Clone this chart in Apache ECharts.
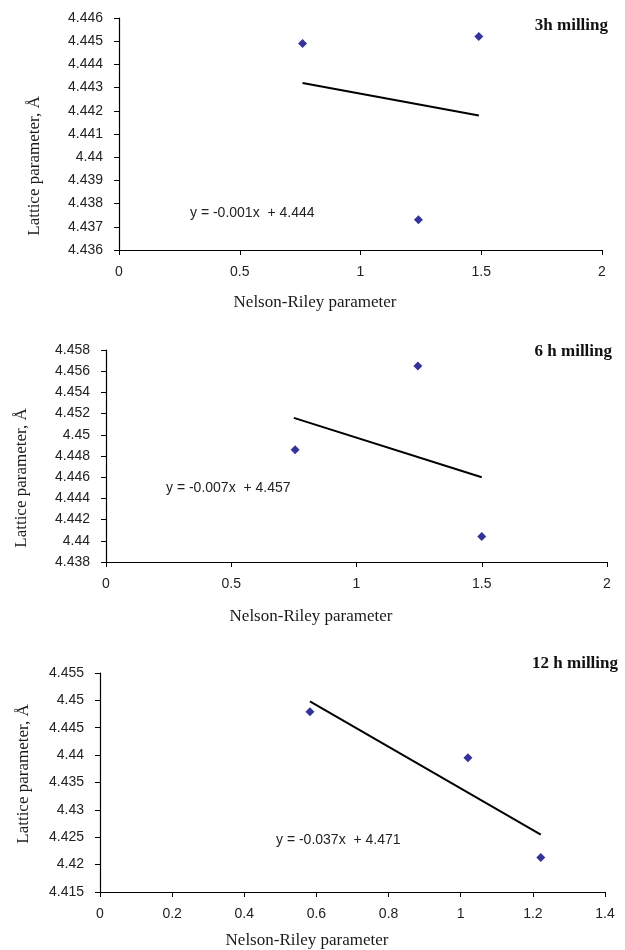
<!DOCTYPE html>
<html>
<head>
<meta charset="utf-8">
<script src="https://cdn.jsdelivr.net/npm/echarts@6/dist/echarts.min.js"></script>
<style>
html,body{margin:0;padding:0;background:#fff;}
#chart{width:625px;height:950px;}
</style>
</head>
<body>
<div id="chart"></div>
<script>
// ---- Data ----
var panelTitles = ['3h milling', '6 h milling', '12 h milling'];
var equations = ['y = -0.001x  + 4.444', 'y = -0.007x  + 4.457', 'y = -0.037x  + 4.471'];

var nr3h = [0.76, 1.24, 1.49];
var lat3h = [4.4449, 4.4373, 4.4452];
var trendX3h = [0.76, 1.49];
var trendY3h = [4.4432, 4.4418];

var nr6h = [0.755, 1.245, 1.5];
var lat6h = [4.4486, 4.4565, 4.4404];
var trendX6h = [0.75, 1.5];
var trendY6h = [4.4516, 4.4460];

var nr12h = [0.582, 1.02, 1.222];
var lat12h = [4.4479, 4.4395, 4.4213];
var trendX12h = [0.582, 1.222];
var trendY12h = [4.4498, 4.4255];

var yMin = [4.436, 4.438, 4.415];
var yMax = [4.446, 4.458, 4.455];
var yStep = [0.001, 0.002, 0.005];
var xMax = [2, 2, 1.4];
var xStep = [0.5, 0.5, 0.2];

var xName = 'Nelson-Riley parameter';
var yName = 'Lattice parameter, Å';

function pairs(xs, ys) { return xs.map(function (x, i) { return [x, ys[i]]; }); }

var pts = [pairs(nr3h, lat3h), pairs(nr6h, lat6h), pairs(nr12h, lat12h)];
var trends = [pairs(trendX3h, trendY3h), pairs(trendX6h, trendY6h), pairs(trendX12h, trendY12h)];

// ---- Layout ----
var grids = [
  {left: 119, top: 18, width: 483, height: 232},
  {left: 106, top: 350, width: 501, height: 212},
  {left: 100, top: 673, width: 505, height: 219}
];
var eqPos = [[190, 213], [166, 488], [276, 840]];
var titlePos = [[608, 26], [612, 352], [618, 664]];
var xNamePos = [[315, 303], [311, 617], [307, 941]];
var yNamePos = [[35, 166], [22, 478], [24, 774]];

var tickFont = {fontFamily: 'Liberation Sans, Arial, sans-serif', fontSize: 14, color: '#222'};
var serif = 'Liberation Serif, Times New Roman, serif';

var xAxes = [], yAxes = [], series = [], graphic = [];
for (var i = 0; i < 3; i++) {
  xAxes.push({
    type: 'value', gridIndex: i, min: 0, max: xMax[i], interval: xStep[i],
    axisLine: {show: true, onZero: false, lineStyle: {color: '#000', width: 1.2}},
    axisTick: {show: true, inside: false, length: 5, lineStyle: {color: '#000'}},
    splitLine: {show: false},
    axisLabel: Object.assign({margin: 15}, tickFont)
  });
  yAxes.push({
    type: 'value', gridIndex: i, min: yMin[i], max: yMax[i], interval: yStep[i],
    axisLine: {show: true, onZero: false, lineStyle: {color: '#000', width: 1.2}},
    axisTick: {show: true, inside: false, length: 5, lineStyle: {color: '#000'}},
    splitLine: {show: false},
    axisLabel: Object.assign({margin: 16, formatter: function (v) { return String(parseFloat(v.toFixed(4))); }}, tickFont)
  });
  series.push({
    type: 'line', xAxisIndex: i, yAxisIndex: i, data: trends[i],
    symbol: 'none', lineStyle: {color: '#000', width: 2}, silent: true, z: 2
  });
  series.push({
    type: 'scatter', xAxisIndex: i, yAxisIndex: i, data: pts[i],
    symbol: 'diamond', symbolSize: 9, itemStyle: {color: '#00007f'}, z: 3
  });
  graphic.push({
    type: 'text', x: eqPos[i][0], y: eqPos[i][1],
    style: {text: equations[i], font: '14px "Liberation Sans", Arial, sans-serif', fill: '#222', textAlign: 'left', textVerticalAlign: 'middle'}
  });
  graphic.push({
    type: 'text', x: titlePos[i][0], y: titlePos[i][1],
    style: {text: panelTitles[i], font: 'bold 17px "Liberation Serif", "Times New Roman", serif', fill: '#111', textAlign: 'right', textVerticalAlign: 'middle'}
  });
  graphic.push({
    type: 'text', x: xNamePos[i][0], y: xNamePos[i][1],
    style: {text: xName, font: '17px "Liberation Serif", "Times New Roman", serif', fill: '#1a1a1a', textAlign: 'center', textVerticalAlign: 'middle'}
  });
  graphic.push({
    type: 'text', x: yNamePos[i][0], y: yNamePos[i][1], rotation: Math.PI / 2,
    style: {text: yName, font: '17px "Liberation Serif", "Times New Roman", serif', fill: '#1a1a1a', textAlign: 'center', textVerticalAlign: 'middle'}
  });
}

var chart = echarts.init(document.getElementById('chart'), null, {renderer: 'canvas'});
chart.setOption({
  animation: false,
  backgroundColor: '#fff',
  grid: grids,
  xAxis: xAxes,
  yAxis: yAxes,
  series: series,
  graphic: graphic
});
</script>
</body>
</html>
